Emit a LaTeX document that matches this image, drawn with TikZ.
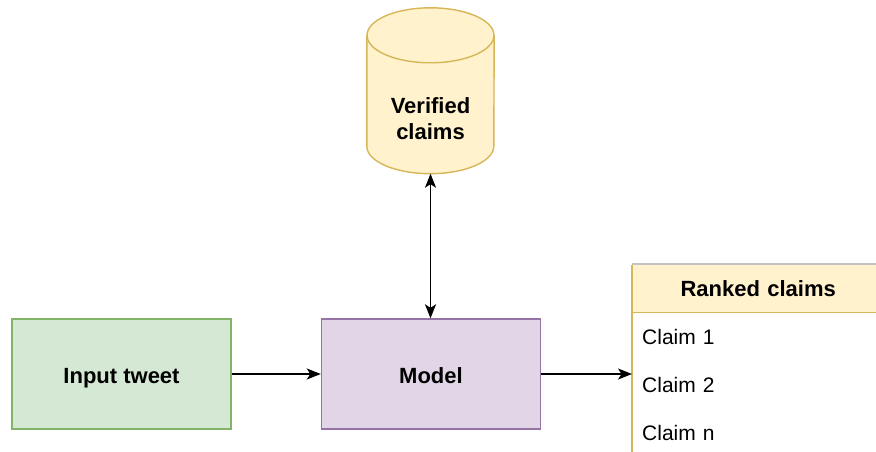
\documentclass[tikz,border=0pt]{standalone}
\usepackage{fontspec}
\setmainfont{Liberation Sans}
\usetikzlibrary{arrows.meta,calc,positioning}
\definecolor{greenfill}{HTML}{D5E8D4}
\definecolor{greenline}{HTML}{82B366}
\definecolor{purplefill}{HTML}{E1D5E7}
\definecolor{purpleline}{HTML}{9673A6}
\definecolor{yellowfill}{HTML}{FFF2CC}
\definecolor{yellowline}{HTML}{D6B656}
\definecolor{edgegray}{HTML}{C4C4C4}

\begin{document}
\begin{tikzpicture}[x=1pt,y=-1pt,
  font=\fontsize{21}{26}\selectfont,
  title/.style={font=\fontsize{22}{26}\selectfont\bfseries},
  box/.style={draw,line width=1.4pt,minimum width=219pt,minimum height=110pt,title,text height=19.8pt,text depth=0pt},
  row/.style={minimum width=252pt,minimum height=48pt,anchor=north west,text width=232pt,inner xsep=10pt,align=left},
  link/.style={line width=1.4pt,-{Stealth[length=14pt,width=11pt,inset=3.5pt]}}]
\clip (0,0) rectangle (876,452);
% boxes
\node[box,fill=greenfill,draw=greenline] (tweet) at (121.5,374) {Input tweet};
\node[box,fill=purplefill,draw=purpleline] (model) at (431,374) {Model};
% database
\node[minimum width=127pt,minimum height=110.5pt,inner sep=0pt] (db) at (430.5,90.75) {};
\fill[yellowfill] (db.north west) -- (db.south west) arc[start angle=180,end angle=360,x radius=63.5,y radius=-27.5] -- (db.north east) arc[start angle=0,end angle=180,x radius=63.5,y radius=-27.5] -- cycle;
\draw[yellowline,line width=1.4pt] (db.north west) -- (db.south west) arc[start angle=180,end angle=360,x radius=63.5,y radius=-27.5] -- (db.north east);
\draw[yellowline,line width=1.4pt] (db.north) ellipse[x radius=63.5,y radius=27.5];
\node[title,align=center] (dbtext) at (430.5,119) {Verified\\claims};
\coordinate (dbbase) at ([yshift=-27.5pt]db.south);
% table
\node[row,fill=yellowfill,align=center,title] (hdr) at (632,264) {Ranked claims};
\draw[yellowline,line width=1.4pt] (hdr.south west) -- (hdr.south east);
\draw[edgegray,line width=1.4pt] (hdr.north west) -- (hdr.north east);
\node[row] (c1) at (hdr.south west) {Claim 1};
\node[row] (c2) at (c1.south west) {Claim 2};
\node[row] (c3) at (c2.south west) {Claim n};
\draw[yellowline,line width=1.4pt] ([yshift=-0.7pt]hdr.north west) -- (c3.south west);
% connectors
\draw[link] (tweet) -- (model);
\draw[link] (model.east) -- (model.east -| c2.west);
\draw[line width=1.4pt,{Stealth[length=14pt,width=11pt,inset=3.5pt]}-{Stealth[length=14pt,width=11pt,inset=3.5pt]}] (dbbase) -- (dbbase |- model.north);
\end{tikzpicture}
\end{document}
